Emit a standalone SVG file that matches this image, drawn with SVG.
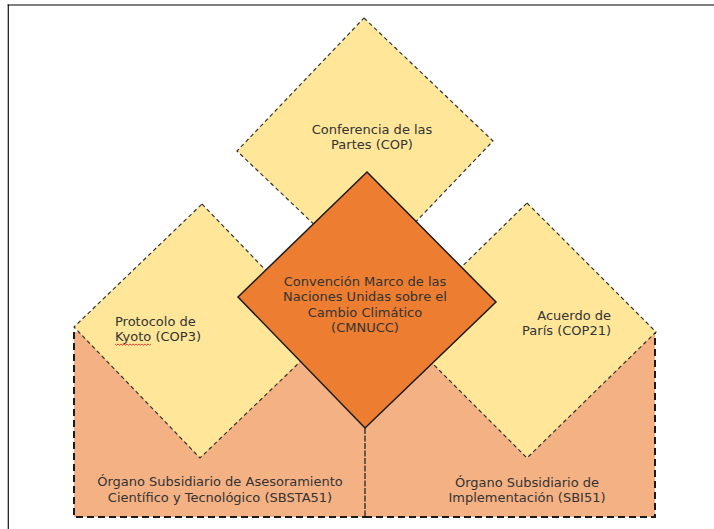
<svg xmlns="http://www.w3.org/2000/svg" width="714" height="529" viewBox="0 0 714 529">
<style>
.yel{fill:#FFE699;stroke:#333;stroke-width:1.2;stroke-dasharray:4 3}
.peach{fill:#F4B183;stroke:none}
.rb{fill:none;stroke:#1a1a1a;stroke-width:2;stroke-dasharray:7 4}
.div{fill:none;stroke:#1a1a1a;stroke-width:1.2;stroke-dasharray:6 1.5}
.core{fill:#ED7D31;stroke:#1a1a1a;stroke-width:1.5}
text{font-family:"DejaVu Sans","Liberation Sans",sans-serif;font-size:13px;fill:#333}
.c{text-anchor:middle}
.e{text-anchor:end}
</style>
<rect x="0" y="0" width="714" height="529" fill="#fff"/>
<g id="frame">
<line x1="7.5" y1="5" x2="714" y2="5" stroke="#555" stroke-width="1.6"/>
<line x1="8.3" y1="4.5" x2="8.3" y2="529" stroke="#111" stroke-width="1.2"/>
</g>
<g id="sbsta">
<rect class="peach" x="74" y="332" width="291" height="185"/>
<path class="rb" d="M74,332 V517 H365"/>
<text class="c" x="220" y="486">Órgano Subsidiario de Asesoramiento</text>
<text class="c" x="220" y="501.5">Científico y Tecnológico (SBSTA51)</text>
</g>
<g id="sbi">
<rect class="peach" x="365" y="333" width="290" height="184"/>
<path class="rb" d="M365,517 H655 V333"/>
<text class="c" x="527" y="487">Órgano Subsidiario de</text>
<text class="c" x="527" y="502">Implementación (SBI51)</text>
</g>
<g id="connectors">
<line class="div" x1="365" y1="428" x2="365" y2="517"/>
</g>
<g id="kyoto">
<polygon class="yel" points="202,204 328,335 200,458 74,327"/>
<text x="115" y="326">Protocolo de</text>
<text x="115" y="340.5">Kyoto (COP3)</text>
<path d="M115,344 l1.5,1.2 l1.5,-1.2 l1.5,1.2 l1.5,-1.2 l1.5,1.2 l1.5,-1.2 l1.5,1.2 l1.5,-1.2 l1.5,1.2 l1.5,-1.2 l1.5,1.2 l1.5,-1.2 l1.5,1.2 l1.5,-1.2 l1.5,1.2 l1.5,-1.2 l1.5,1.2 l1.5,-1.2 l1.5,1.2 l1.5,-1.2 l1.5,1.2 l1.5,-1.2 l1.5,1.2 l1.5,-1.2" fill="none" stroke="#e02020" stroke-width="0.8"/>
</g>
<g id="paris">
<polygon class="yel" points="527,203 656,332 527,458 398,329"/>
<text class="e" x="611" y="320">Acuerdo de</text>
<text class="e" x="611" y="335">París (COP21)</text>
</g>
<g id="cop">
<polygon class="yel" points="364,18 493,141 366,274 237,151"/>
<text class="c" x="372" y="134">Conferencia de las</text>
<text class="c" x="372" y="148.5">Partes (COP)</text>
</g>
<g id="cmnucc">
<polygon class="core" points="367,172 496,302 365,428 238,297"/>
<text class="c" x="365" y="286">Convención Marco de las</text>
<text class="c" x="365" y="301">Naciones Unidas sobre el</text>
<text class="c" x="365" y="316.5">Cambio Climático</text>
<text class="c" x="365" y="331.5">(CMNUCC)</text>
</g>
</svg>
